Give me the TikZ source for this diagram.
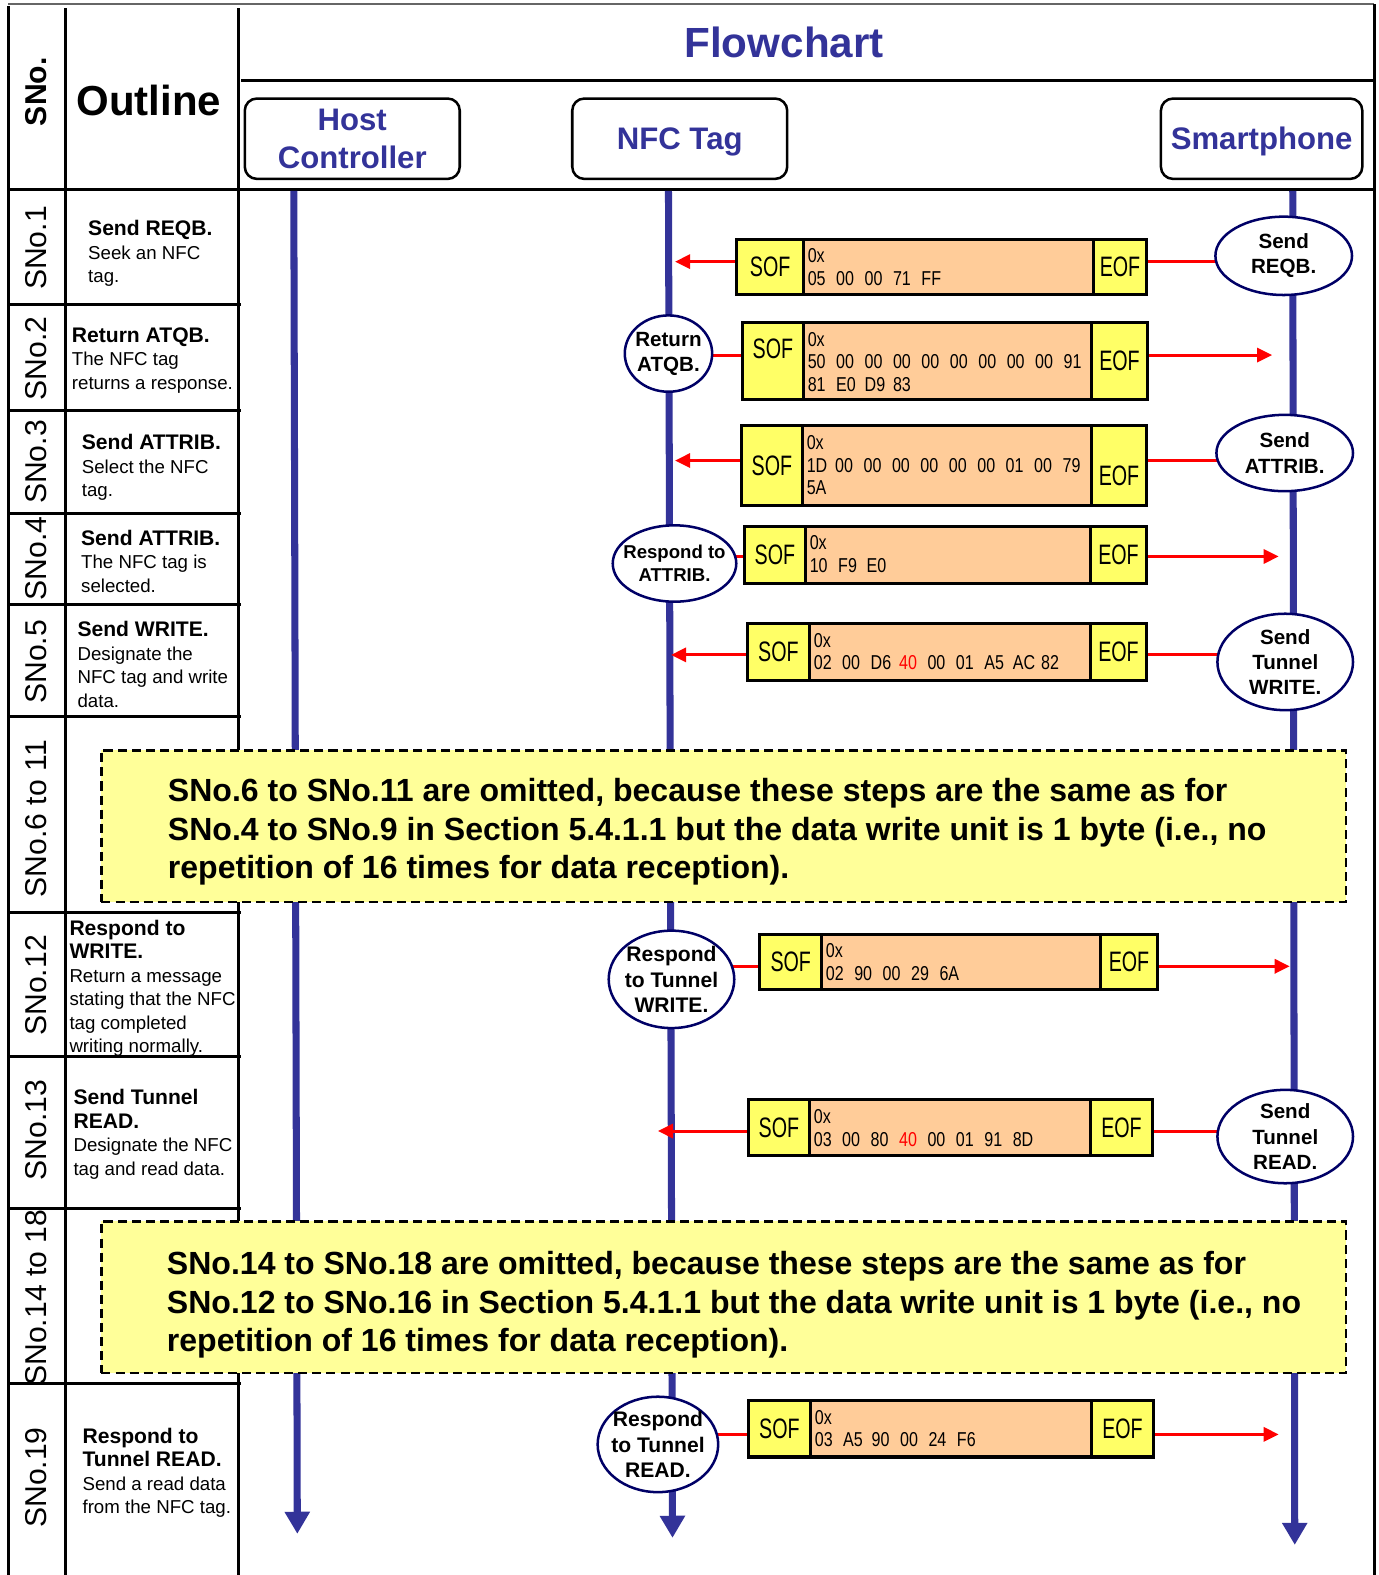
\documentclass[tikz,border=0pt]{standalone}
\usepackage{fontspec}
\setmainfont{Liberation Sans}
\newfontfamily\narrowsans[FakeStretch=0.70]{Liberation Sans}
\newfontfamily\hexsans[FakeStretch=0.80]{Liberation Sans}
\usetikzlibrary{arrows.meta,shapes.geometric,backgrounds}

\definecolor{lifeblue}{RGB}{51,51,153}
\definecolor{ovalnavy}{RGB}{0,0,102}
\definecolor{sofyellow}{RGB}{255,255,102}
\definecolor{datapeach}{RGB}{255,204,153}
\definecolor{noteyellow}{RGB}{255,255,153}

\newcommand\fsz[2]{\fontsize{#1}{#2}\selectfont}
% one row of hex bytes on a fixed pitch
\newcommand\hexrow[1]{\foreach \hexbyte in {#1}{\makebox[28.3pt][l]{\hexbyte}}}
% frame: name, x(SOF), x(data), x(EOF), x(end), y(top), y(bottom), payload lines
\newcommand\msgframe[8]{%
  \node[databox, minimum width={#4-#3}, minimum height={#7-#6}] (#1d) at ({(#3+#4)/2},{(#6+#7)/2}) {};
  \node[sofbox, sof extra, minimum width={#3-#2}, minimum height={#7-#6}] (#1s) at ({(#2+#3)/2},{(#6+#7)/2}) {SOF};
  \node[sofbox, eof extra, minimum width={#5-#4}, minimum height={#7-#6}] (#1e) at ({(#4+#5)/2},{(#6+#7)/2}) {EOF};
  \node[hextext] (#1h) at ({#3+4},{#6+9.3}) {0x\\#8};
}

\begin{document}
\begin{tikzpicture}[x=1pt,y=-1pt,
  grid/.style={line width=3pt, black},
  life/.style={line width=7pt, draw=lifeblue, -{Triangle[length=22pt,width=24pt]}},
  sig/.style={line width=3pt, draw=red},
  sigarrow/.style={sig, -{Triangle[length=15pt,width=14pt]}},
  headbox/.style={draw, line width=2.5pt, rounded corners=12pt, inner sep=0pt, align=center, text=lifeblue, font=\bfseries\fsz{31}{38}},
  sno/.style={rotate=90, inner sep=0pt, font=\fsz{30}{36}},
  outline/.style={anchor=north west, align=left, inner sep=0pt, font=\fsz{18.6}{23.4}},
  oval/.style={ellipse, draw=ovalnavy, line width=2.5pt, fill=white, inner sep=-15pt, align=center, font=\bfseries\fsz{20.5}{25}},
  framebox/.style={draw=black, line width=3pt, inner sep=0pt},
  sofbox/.style={framebox, fill=sofyellow, font=\narrowsans\fsz{28}{30}},
  databox/.style={framebox, fill=datapeach},
  hextext/.style={anchor=north west, align=left, inner sep=0pt, font=\hexsans\fsz{20}{22.5}},
  notebox/.style={draw=black, dash pattern=on 9pt off 5pt, line width=2.5pt, fill=noteyellow, inner sep=0pt},
  notetext/.style={anchor=north west, align=left, inner sep=0pt, font=\bfseries\fsz{31.9}{38.3}},
  sof extra/.style={}, eof extra/.style={},
]
\useasboundingbox (0,0) rectangle (1372,1568);

% ---------- header ----------
\node[sno, font=\bfseries\fsz{30}{36}] (snohead) at (36,91.3) {SNo.};
\node[font=\bfseries\fsz{41.8}{48}, inner sep=0pt] (outlinehead) at (148.2,99.6) {Outline};
\node[font=\bfseries\fsz{42}{48}, text=lifeblue, inner sep=0pt] (title) at (780.6,42.3) {Flowchart};
\node[headbox, minimum width=214, minimum height=80] (host) at (350.7,138.1) {Host\\Controller};
\node[headbox, minimum width=214, minimum height=80, text depth=0pt] (tag) at (676.7,138.1) {NFC Tag};
\node[headbox, minimum width=200.5, minimum height=80, text depth=0pt] (phone) at (1256,138.1) {Smartphone};

% ---------- step numbers ----------
\node[sno] (sno1) at (36,247) {SNo.1};
\node[sno] (sno2) at (36,357) {SNo.2};
\node[sno] (sno3) at (36,460) {SNo.3};
\node[sno] (sno4) at (36,556) {SNo.4};
\node[sno] (sno5) at (36,659) {SNo.5};
\node[sno] (sno6) at (36,815) {SNo.6 to 11};
\node[sno] (sno12) at (36,981) {SNo.12};
\node[sno] (sno13) at (36,1125) {SNo.13};
\node[sno] (sno14) at (36,1292) {SNo.14 to 18};
\node[sno] (sno19) at (36,1471) {SNo.19};

% ---------- outline texts ----------
\node[outline] (out1) at (87.6,219.2) {{\bfseries\fsz{21}{23.4}Send REQB.}\\Seek an NFC\\tag.};
\node[outline] (out2) at (71.4,326) {{\bfseries\fsz{21}{23.4}Return ATQB.}\\The NFC tag\\returns a response.};
\node[outline] (out3) at (81.3,432.2) {{\bfseries\fsz{21}{23.4}Send ATTRIB.}\\Select the NFC\\tag.};
\node[outline] (out4) at (80.6,527.5) {{\bfseries\fsz{21}{23.4}Send ATTRIB.}\\The NFC tag is\\selected.};
\node[outline] (out5) at (77,618.7) {{\bfseries\fsz{21}{23.4}Send WRITE.}\\Designate the\\NFC tag and write\\data.};
\node[outline] (out12) at (69,915.5) {{\bfseries\fsz{21}{23.4}Respond to}\\{\bfseries\fsz{21}{23.4}WRITE.}\\Return a message\\stating that the NFC\\tag completed\\writing normally.};
\node[outline] (out13) at (73,1084.5) {{\bfseries\fsz{21}{23.4}Send Tunnel}\\{\bfseries\fsz{21}{23.4}READ.}\\Designate the NFC\\tag and read data.};
\node[outline] (out19) at (82,1421.2) {{\bfseries\fsz{21}{23.4}Respond to}\\{\bfseries\fsz{21}{23.4}Tunnel READ.}\\Send a read data\\from the NFC tag.};

% ---------- frames ----------
\msgframe{f1}{733.5}{800}{1089}{1141}{238}{293}{\hexrow{05,00,00,71,FF}}
\begin{scope}[sof extra/.style={text depth=24pt}]
\msgframe{f2}{739}{800}{1087}{1142}{321}{398}{\hexrow{50,00,00,00,00,00,00,00,00,91}\\\hexrow{81,E0,D9,83}}
\end{scope}
\begin{scope}[eof extra/.style={text height=40pt}]
\msgframe{f3}{738}{799}{1087}{1141}{424}{503.5}{\hexrow{1D,00,00,00,00,00,00,01,00,79}\\\hexrow{5A}}
\end{scope}
\msgframe{f4}{741}{802}{1086}{1141}{524}{581}{\hexrow{10,F9,E0}}
\msgframe{f5}{744}{806}{1086}{1141}{621}{677}{\hexrow{02,00,D6,{\textcolor{red}{40}},00,01,A5,AC,82}}
\msgframe{f12}{756.5}{818}{1096}{1152}{930}{985}{\hexrow{02,90,00,29,6A}}
\msgframe{f13}{745}{806}{1086}{1147}{1095}{1150}{\hexrow{03,00,80,{\textcolor{red}{40}},00,01,91,8D}}
\msgframe{f19}{745}{807}{1087}{1148}{1394.5}{1450.5}{\hexrow{03,A5,90,00,24,F6}}

% ---------- events on the lifelines ----------
\node[oval, minimum width=136, minimum height=78] (e1) at (1278,254.7) {Send\\REQB.};
\node[oval, minimum width=87, minimum height=76] (e2) at (665.5,352) {Return\\ATQB.};
\node[oval, minimum width=136, minimum height=76] (e3) at (1279,451) {Send\\ATTRIB.};
\node[oval, minimum width=123, minimum height=76, font=\bfseries\fsz{18.5}{23}] (e4) at (671.5,561) {Respond to\\ATTRIB.};
\node[oval, minimum width=135, minimum height=96] (e5) at (1279.5,659) {Send\\Tunnel\\WRITE.};
\node[oval, minimum width=125, minimum height=97, font=\bfseries\fsz{21}{25}] (e12) at (668.5,975) {Respond\\to Tunnel\\WRITE.};
\node[oval, minimum width=135, minimum height=93] (e13) at (1279.5,1131.5) {Send\\Tunnel\\READ.};
\node[oval, minimum width=120, minimum height=95, font=\bfseries\fsz{21}{25}] (e19) at (655,1438) {Respond\\to Tunnel\\READ.};

% ---------- omitted steps ----------
\node[notebox, minimum width=1239, minimum height=151] (note1) at (720.5,822.5) {};
\node[notetext] (note1txt) at (167,775) {SNo.6 to SNo.11 are omitted, because these steps are the same as for\\SNo.4 to SNo.9 in Section 5.4.1.1 but the data write unit is 1 byte (i.e., no\\repetition of 16 times for data reception).};
\node[notebox, minimum width=1239, minimum height=151] (note2) at (720.5,1291.5) {};
\node[notetext] (note2txt) at (166,1246) {SNo.14 to SNo.18 are omitted, because these steps are the same as for\\SNo.12 to SNo.16 in Section 5.4.1.1 but the data write unit is 1 byte (i.e., no\\repetition of 16 times for data reception).};

% ---------- table rules, lifelines and signals ----------
\coordinate (hostTop) at (292.5,190);  \coordinate (hostEnd) at (296,1527);
\coordinate (tagTop) at (665.5,190);   \coordinate (tagEnd) at (669.5,1531);
\coordinate (phoneTop) at (1287,190);  \coordinate (phoneEnd) at (1289,1538);
\coordinate (tip1) at (672,260.5);
\coordinate (r2) at (1266.5,353.5);
\coordinate (tip3) at (672,458.5);
\coordinate (r4) at (1273,554);
\coordinate (tip5) at (668,652);
\coordinate (r12) at (1284,962);
\coordinate (tip13) at (655,1126);
\coordinate (r19) at (1273,1428);

\begin{scope}[on background layer]
  \draw[line width=2pt, black!60] (8,4) -- (1368,4);
  \draw[grid] (8,6) -- (8,1568);
  \draw[grid] (1368,4) -- (1368,1568);
  \draw[grid] (65,8) -- (65,1568);
  \draw[grid] (237,8) -- (237,1568);
  \draw[grid] (240,80) -- (1370,80);
  \draw[grid] (8,189) -- (1368,189);
  \foreach \yy in {303,409,511,602,713,908,1052,1203,1377}
    \draw[grid] (8,\yy) -- (240,\yy);

  \draw[life] (hostTop) -- (hostEnd);
  \draw[life] (tagTop) -- (tagEnd);
  \draw[life] (phoneTop) -- (phoneEnd);

  \draw[sigarrow] (f1s.west |- tip1) -- (tip1);
  \draw[sig] (f1e.east |- tip1) -- (e1.center |- tip1);
  \draw[sig] (e2.center |- r2) -- (f2s.west |- r2);
  \draw[sigarrow] (f2e.east |- r2) -- (r2);
  \draw[sigarrow] (f3s.west |- tip3) -- (tip3);
  \draw[sig] (f3e.east |- tip3) -- (e3.center |- tip3);
  \draw[sig] (e4.center |- r4) -- (f4s.west |- r4);
  \draw[sigarrow] (f4e.east |- r4) -- (r4);
  \draw[sigarrow] (f5s.west |- tip5) -- (tip5);
  \draw[sig] (f5e.east |- tip5) -- (e5.center |- tip5);
  \draw[sig] (e12.center |- r12) -- (f12s.west |- r12);
  \draw[sigarrow] (f12e.east |- r12) -- (r12);
  \draw[sigarrow] (f13s.west |- tip13) -- (tip13);
  \draw[sig] (f13e.east |- tip13) -- (e13.center |- tip13);
  \draw[sig] (e19.center |- r19) -- (f19s.west |- r19);
  \draw[sigarrow] (f19e.east |- r19) -- (r19);
\end{scope}
\end{tikzpicture}
\end{document}
